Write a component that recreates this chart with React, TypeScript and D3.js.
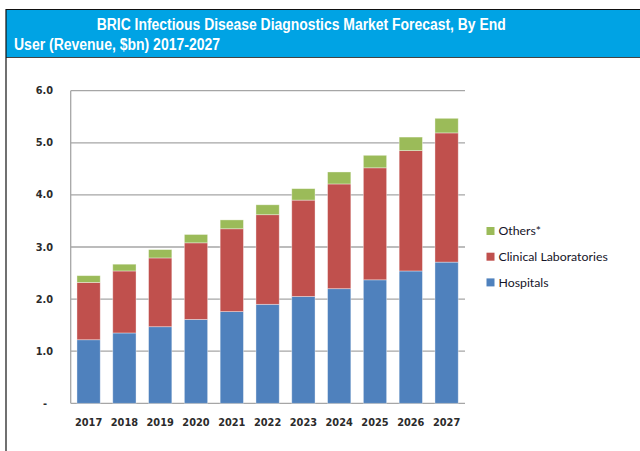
import React from "react";
import * as d3 from "d3";

const years = ["2017","2018","2019","2020","2021","2022","2023","2024","2025","2026","2027"];
const hospitals = [1.22,1.35,1.47,1.61,1.76,1.90,2.05,2.20,2.37,2.54,2.71];
const clinicalLabs = [1.10,1.19,1.32,1.47,1.59,1.72,1.85,2.01,2.15,2.31,2.48];
const others = [0.13,0.13,0.16,0.16,0.17,0.19,0.22,0.23,0.24,0.26,0.28];
const seriesNames = ["Hospitals","Clinical Laboratories","Others*"];
const seriesColors = ["#4F81BD","#C0504D","#9BBB59"];
const yTicks = [0,1,2,3,4,5,6];
const yTickLabels = ["-","1.0","2.0","3.0","4.0","5.0","6.0"];

export default function App() {
  const W = 640, H = 451;
  const x = d3.scaleBand<string>().domain(years).range([70.7, 464.5]).paddingInner(0.35).paddingOuter(0.175);
  const y = d3.scaleLinear().domain([0, 6]).range([403.3, 90.7]);
  const table = years.map((yr, i) => ({ year: yr, h: hospitals[i], c: clinicalLabs[i], o: others[i] }));
  const stack = d3.stack<any>().keys(["h","c","o"])(table);
  const legendOrder = [2,1,0];
  return (
    <svg width={W} height={H} style={{ position: "absolute", left: 0, top: 0 }}>
      <rect x={0} y={0} width={W} height={H} fill="#fff" />
      {/* header */}
      <rect x={6} y={9.5} width={W - 6} height={47.5} fill="#00A3E4" />
      <line x1={6} x2={W} y1={9.5} y2={9.5} stroke="#111" strokeWidth={1} />
      <line x1={6} x2={W} y1={57.5} y2={57.5} stroke="#444" strokeWidth={1.2} />
      <line x1={6} x2={6} y1={9} y2={H} stroke="#111" strokeWidth={1.2} />
      <text x={96.7} y={30} fill="#fff" fontFamily="Liberation Sans, Arial, sans-serif" fontWeight="bold" fontSize={16} textLength={409} lengthAdjust="spacingAndGlyphs">BRIC Infectious Disease Diagnostics Market Forecast, By End</text>
      <text x={14} y={50} fill="#fff" fontFamily="Liberation Sans, Arial, sans-serif" fontWeight="bold" fontSize={16} textLength={206} lengthAdjust="spacingAndGlyphs">User (Revenue, $bn) 2017-2027</text>
      {/* grid */}
      {yTicks.filter(t => t > 0).map(t => (
        <line key={t} x1={70.7} x2={465} y1={y(t)} y2={y(t)} stroke="#A6A6A6" strokeWidth={1.3} />
      ))}
      <line x1={70.7} x2={70.7} y1={y(6)} y2={y(0)} stroke="#A6A6A6" strokeWidth={1.3} />
      <line x1={70.7} x2={465} y1={y(0)} y2={y(0)} stroke="#A6A6A6" strokeWidth={1.3} />
      {/* bars */}
      {stack.map((s, si) => (
        <g key={si} fill={seriesColors[si]}>
          {s.map((d: any, i: number) => (
            <rect key={i} x={x(years[i])} width={x.bandwidth()} y={y(d[1])} height={y(d[0]) - y(d[1])} stroke="#ffffff" strokeOpacity={0.45} strokeWidth={0.8} />
          ))}
        </g>
      ))}
      {/* y labels */}
      {yTicks.map((t, i) => (
        <text key={t} x={t === 0 ? 47 : 53} y={y(t) + 3.5} textAnchor="end" fontFamily="DejaVu Sans, Verdana, sans-serif" fontWeight="bold" fontSize={9.8} fill="#2b2b2b">{yTickLabels[i]}</text>
      ))}
      {/* x labels */}
      {years.map(yr => (
        <text key={yr} x={(x(yr) as number) + x.bandwidth() / 2} y={426} textAnchor="middle" fontFamily="DejaVu Sans, Verdana, sans-serif" fontWeight="bold" fontSize={9.8} fill="#2b2b2b">{yr}</text>
      ))}
      {/* legend */}
      {legendOrder.map((si, k) => (
        <g key={si} transform={`translate(486.5, ${231 + k * 25.7})`}>
          <rect x={0} y={-4} width={8} height={8} fill={seriesColors[si]} />
          <text x={12} y={4.3} fontFamily="Lato, Noto Sans, sans-serif" fontSize={12.3} fill="#141428">{seriesNames[si]}</text>
        </g>
      ))}
    </svg>
  );
}
